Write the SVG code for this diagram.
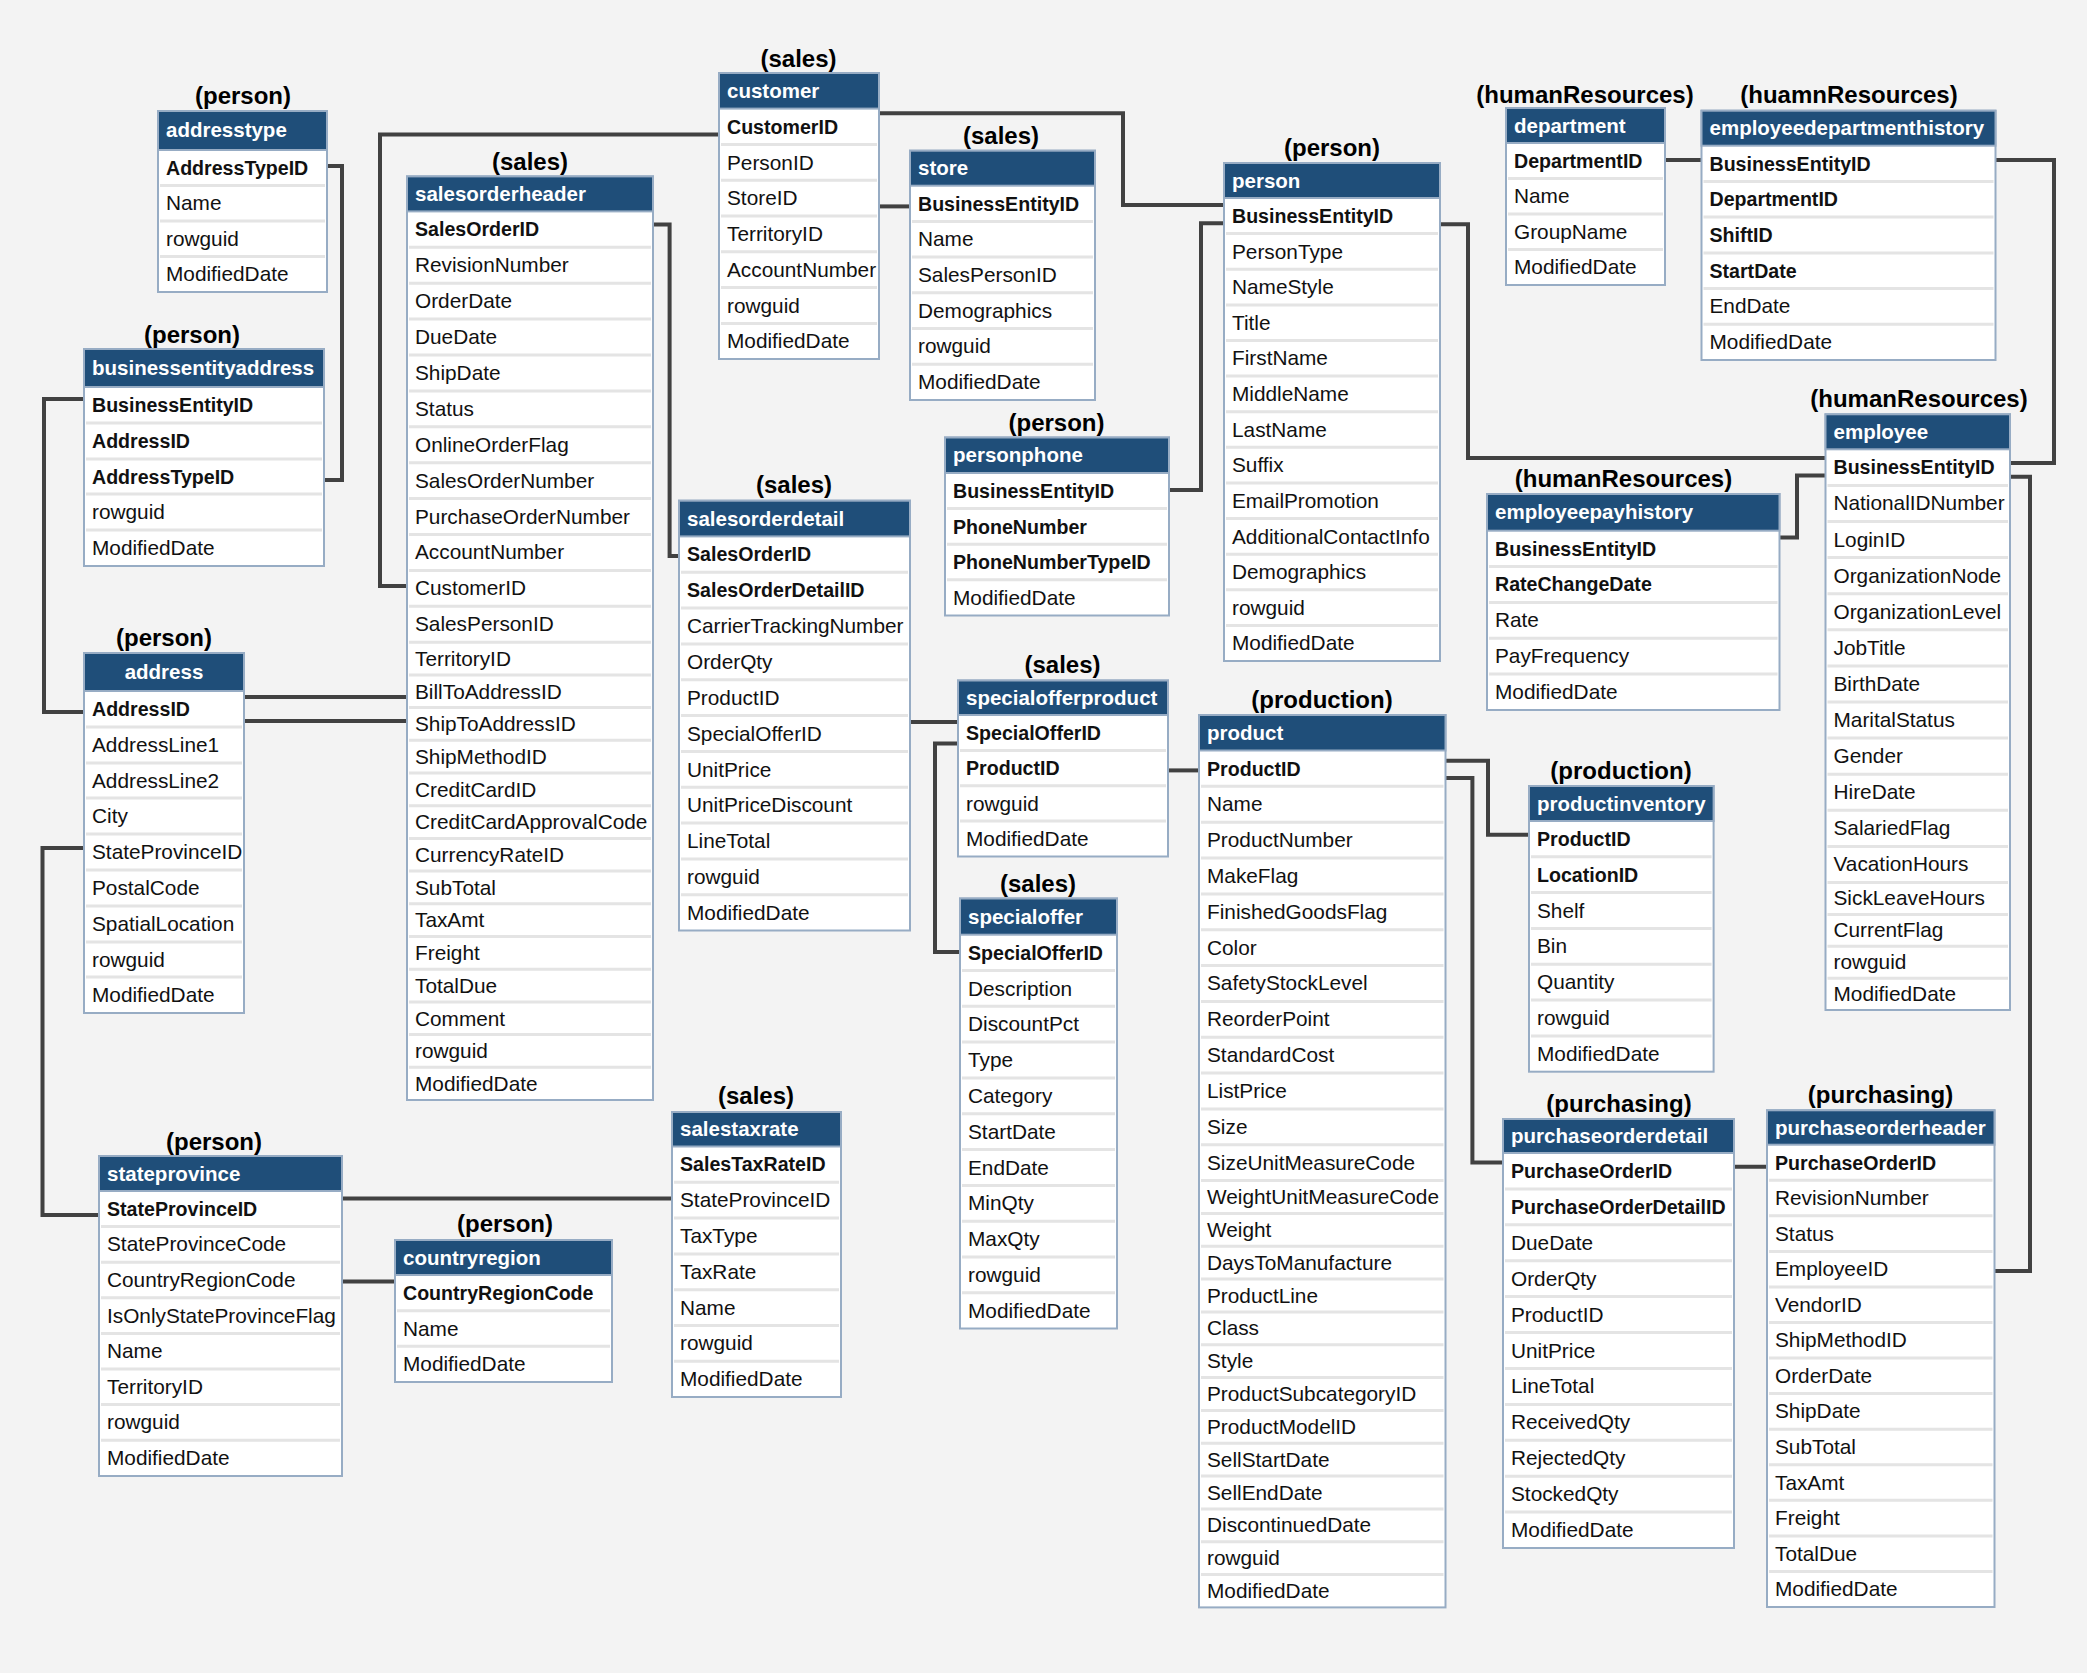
<svg xmlns="http://www.w3.org/2000/svg" width="2087" height="1673" viewBox="0 0 2087 1673">
<style>
.sc{font-family:"Liberation Sans",Arial,sans-serif;font-weight:bold;font-size:24px;fill:#000;text-anchor:middle}
.bx{fill:#fff;stroke:#97acc4;stroke-width:2}
.hd{fill:#1f4e79;stroke:#97acc4;stroke-width:2}
.ht{font-family:"Liberation Sans",Arial,sans-serif;font-weight:bold;font-size:20.5px;fill:#fff}
.sp{stroke:#e4e4e4;stroke-width:3;fill:none}
.f{font-family:"Liberation Sans",Arial,sans-serif;font-size:20.8px;fill:#111}
.k{font-family:"Liberation Sans",Arial,sans-serif;font-weight:bold;font-size:19.6px;fill:#111}
.ln{fill:none;stroke:#414141;stroke-width:4}
</style>
<rect width="2087" height="1673" fill="#f3f3f3"/>
<g id="connectors">
<path class="ln" d="M327 166H342V480H324"/>
<path class="ln" d="M84 399H44V712H84"/>
<path class="ln" d="M84 848H42.5V1215H99"/>
<path class="ln" d="M244 697H407"/>
<path class="ln" d="M244 721H407"/>
<path class="ln" d="M719 134.6H380V586H407"/>
<path class="ln" d="M653 224.6H669.6V556H679"/>
<path class="ln" d="M342 1198.5H672"/>
<path class="ln" d="M342 1281.4H395"/>
<path class="ln" d="M879 113.2H1123V205H1224"/>
<path class="ln" d="M879 206.4H910"/>
<path class="ln" d="M1169 490H1201V223.2H1224"/>
<path class="ln" d="M1440 224.3H1468V458H1825.5"/>
<path class="ln" d="M1665 160H1701.5"/>
<path class="ln" d="M1995.5 160H2054V463H2010"/>
<path class="ln" d="M1825.5 475.4H1797V537.5H1779.5"/>
<path class="ln" d="M2010 476.8H2030V1271H1994.5"/>
<path class="ln" d="M910 722H958"/>
<path class="ln" d="M958 743.6H935V952H960"/>
<path class="ln" d="M1168 770.4H1199"/>
<path class="ln" d="M1445.5 760.8H1488V834.8H1529"/>
<path class="ln" d="M1445.5 778H1472.4V1162.6H1503"/>
<path class="ln" d="M1734 1166.8H1767"/>
</g>

<g id="addresstype">
<text class="sc" x="243" y="104">(person)</text>
<rect class="bx" x="158" y="111" width="169" height="181"/>
<rect class="hd" x="158" y="111" width="169" height="39"/>
<text class="ht" x="166" y="137">addresstype</text>
<path class="sp" d="M160 185.5H325M160 221H325M160 256.5H325"/>
<text class="k" x="166" y="175">AddressTypeID</text>
<text class="f" x="166" y="210">Name</text>
<text class="f" x="166" y="246">rowguid</text>
<text class="f" x="166" y="281">ModifiedDate</text>
</g>

<g id="businessentityaddress">
<text class="sc" x="192" y="343">(person)</text>
<rect class="bx" x="84" y="349" width="240" height="217"/>
<rect class="hd" x="84" y="349" width="240" height="38"/>
<text class="ht" x="92" y="375">businessentityaddress</text>
<path class="sp" d="M86 423H322M86 459H322M86 494H322M86 530H322"/>
<text class="k" x="92" y="412">BusinessEntityID</text>
<text class="k" x="92" y="448">AddressID</text>
<text class="k" x="92" y="484">AddressTypeID</text>
<text class="f" x="92" y="519">rowguid</text>
<text class="f" x="92" y="555">ModifiedDate</text>
</g>

<g id="address">
<text class="sc" x="164" y="646">(person)</text>
<rect class="bx" x="84" y="653" width="160" height="360"/>
<rect class="hd" x="84" y="653" width="160" height="38"/>
<text class="ht" x="164" y="679" text-anchor="middle">address</text>
<path class="sp" d="M86 727H242M86 763H242M86 798H242M86 834H242M86 870H242M86 906H242M86 942H242M86 977H242"/>
<text class="k" x="92" y="716">AddressID</text>
<text class="f" x="92" y="752">AddressLine1</text>
<text class="f" x="92" y="788">AddressLine2</text>
<text class="f" x="92" y="823">City</text>
<text class="f" x="92" y="859">StateProvinceID</text>
<text class="f" x="92" y="895">PostalCode</text>
<text class="f" x="92" y="931">SpatialLocation</text>
<text class="f" x="92" y="967">rowguid</text>
<text class="f" x="92" y="1002">ModifiedDate</text>
</g>

<g id="stateprovince">
<text class="sc" x="214" y="1150">(person)</text>
<rect class="bx" x="99" y="1156" width="243" height="320"/>
<rect class="hd" x="99" y="1156" width="243" height="35"/>
<text class="ht" x="107" y="1181">stateprovince</text>
<path class="sp" d="M101 1226.6H340M101 1262.2H340M101 1297.8H340M101 1333.4H340M101 1369H340M101 1404.6H340M101 1440.2H340"/>
<text class="k" x="107" y="1216">StateProvinceID</text>
<text class="f" x="107" y="1251">StateProvinceCode</text>
<text class="f" x="107" y="1287">CountryRegionCode</text>
<text class="f" x="107" y="1323">IsOnlyStateProvinceFlag</text>
<text class="f" x="107" y="1358">Name</text>
<text class="f" x="107" y="1394">TerritoryID</text>
<text class="f" x="107" y="1429">rowguid</text>
<text class="f" x="107" y="1465">ModifiedDate</text>
</g>

<g id="countryregion">
<text class="sc" x="505" y="1232">(person)</text>
<rect class="bx" x="395" y="1240" width="217" height="142"/>
<rect class="hd" x="395" y="1240" width="217" height="35"/>
<text class="ht" x="403" y="1265">countryregion</text>
<path class="sp" d="M397 1310.7H610M397 1346.3H610"/>
<text class="k" x="403" y="1300">CountryRegionCode</text>
<text class="f" x="403" y="1336">Name</text>
<text class="f" x="403" y="1371">ModifiedDate</text>
</g>

<g id="salestaxrate">
<text class="sc" x="756" y="1104">(sales)</text>
<rect class="bx" x="672" y="1112" width="169" height="285"/>
<rect class="hd" x="672" y="1112" width="169" height="34.5"/>
<text class="ht" x="680" y="1136">salestaxrate</text>
<path class="sp" d="M674 1182.3H839M674 1218.1H839M674 1253.9H839M674 1289.7H839M674 1325.5H839M674 1361.3H839"/>
<text class="k" x="680" y="1171">SalesTaxRateID</text>
<text class="f" x="680" y="1207">StateProvinceID</text>
<text class="f" x="680" y="1243">TaxType</text>
<text class="f" x="680" y="1279">TaxRate</text>
<text class="f" x="680" y="1315">Name</text>
<text class="f" x="680" y="1350">rowguid</text>
<text class="f" x="680" y="1386">ModifiedDate</text>
</g>

<g id="salesorderheader">
<text class="sc" x="530" y="170">(sales)</text>
<rect class="bx" x="407" y="176.4" width="246" height="923.6"/>
<rect class="hd" x="407" y="176.4" width="246" height="35"/>
<text class="ht" x="415" y="201">salesorderheader</text>
<path class="sp" d="M409 247.3H651M409 283.2H651M409 319.1H651M409 355H651M409 390.9H651M409 426.8H651M409 462.7H651M409 498.6H651M409 534.5H651M409 570.4H651M409 606.3H651M409 642.2H651M409 674.9H651M409 707.6H651M409 740.3H651M409 773H651M409 805.7H651M409 838.4H651M409 871.1H651M409 903.8H651M409 936.5H651M409 969.2H651M409 1001.9H651M409 1034.6H651M409 1067.3H651"/>
<text class="k" x="415" y="236">SalesOrderID</text>
<text class="f" x="415" y="272">RevisionNumber</text>
<text class="f" x="415" y="308">OrderDate</text>
<text class="f" x="415" y="344">DueDate</text>
<text class="f" x="415" y="380">ShipDate</text>
<text class="f" x="415" y="416">Status</text>
<text class="f" x="415" y="452">OnlineOrderFlag</text>
<text class="f" x="415" y="488">SalesOrderNumber</text>
<text class="f" x="415" y="524">PurchaseOrderNumber</text>
<text class="f" x="415" y="559">AccountNumber</text>
<text class="f" x="415" y="595">CustomerID</text>
<text class="f" x="415" y="631">SalesPersonID</text>
<text class="f" x="415" y="666">TerritoryID</text>
<text class="f" x="415" y="699">BillToAddressID</text>
<text class="f" x="415" y="731">ShipToAddressID</text>
<text class="f" x="415" y="764">ShipMethodID</text>
<text class="f" x="415" y="797">CreditCardID</text>
<text class="f" x="415" y="829">CreditCardApprovalCode</text>
<text class="f" x="415" y="862">CurrencyRateID</text>
<text class="f" x="415" y="895">SubTotal</text>
<text class="f" x="415" y="927">TaxAmt</text>
<text class="f" x="415" y="960">Freight</text>
<text class="f" x="415" y="993">TotalDue</text>
<text class="f" x="415" y="1026">Comment</text>
<text class="f" x="415" y="1058">rowguid</text>
<text class="f" x="415" y="1091">ModifiedDate</text>
</g>

<g id="customer">
<text class="sc" x="798.5" y="67">(sales)</text>
<rect class="bx" x="719" y="73" width="160" height="286"/>
<rect class="hd" x="719" y="73" width="160" height="35.6"/>
<text class="ht" x="727" y="98">customer</text>
<path class="sp" d="M721 144.4H877M721 180.2H877M721 216H877M721 251.8H877M721 287.6H877M721 323.4H877"/>
<text class="k" x="727" y="134">CustomerID</text>
<text class="f" x="727" y="170">PersonID</text>
<text class="f" x="727" y="205">StoreID</text>
<text class="f" x="727" y="241">TerritoryID</text>
<text class="f" x="727" y="277">AccountNumber</text>
<text class="f" x="727" y="313">rowguid</text>
<text class="f" x="727" y="348">ModifiedDate</text>
</g>

<g id="store">
<text class="sc" x="1001" y="144">(sales)</text>
<rect class="bx" x="910" y="150.7" width="185" height="249.3"/>
<rect class="hd" x="910" y="150.7" width="185" height="35"/>
<text class="ht" x="918" y="175">store</text>
<path class="sp" d="M912 221.4H1093M912 257.1H1093M912 292.8H1093M912 328.5H1093M912 364.2H1093"/>
<text class="k" x="918" y="211">BusinessEntityID</text>
<text class="f" x="918" y="246">Name</text>
<text class="f" x="918" y="282">SalesPersonID</text>
<text class="f" x="918" y="318">Demographics</text>
<text class="f" x="918" y="353">rowguid</text>
<text class="f" x="918" y="389">ModifiedDate</text>
</g>

<g id="personphone">
<text class="sc" x="1056.5" y="431">(person)</text>
<rect class="bx" x="945" y="437.5" width="224" height="178"/>
<rect class="hd" x="945" y="437.5" width="224" height="35.5"/>
<text class="ht" x="953" y="462">personphone</text>
<path class="sp" d="M947 508.6H1167M947 544.2H1167M947 579.8H1167"/>
<text class="k" x="953" y="498">BusinessEntityID</text>
<text class="k" x="953" y="534">PhoneNumber</text>
<text class="k" x="953" y="569">PhoneNumberTypeID</text>
<text class="f" x="953" y="605">ModifiedDate</text>
</g>

<g id="salesorderdetail">
<text class="sc" x="794" y="493">(sales)</text>
<rect class="bx" x="679" y="500.7" width="231" height="429.8"/>
<rect class="hd" x="679" y="500.7" width="231" height="35.7"/>
<text class="ht" x="687" y="526">salesorderdetail</text>
<path class="sp" d="M681 572.2H908M681 608.1H908M681 643.9H908M681 679.7H908M681 715.6H908M681 751.4H908M681 787.2H908M681 823.1H908M681 858.9H908M681 894.7H908"/>
<text class="k" x="687" y="561">SalesOrderID</text>
<text class="k" x="687" y="597">SalesOrderDetailID</text>
<text class="f" x="687" y="633">CarrierTrackingNumber</text>
<text class="f" x="687" y="669">OrderQty</text>
<text class="f" x="687" y="705">ProductID</text>
<text class="f" x="687" y="741">SpecialOfferID</text>
<text class="f" x="687" y="777">UnitPrice</text>
<text class="f" x="687" y="812">UnitPriceDiscount</text>
<text class="f" x="687" y="848">LineTotal</text>
<text class="f" x="687" y="884">rowguid</text>
<text class="f" x="687" y="920">ModifiedDate</text>
</g>

<g id="specialofferproduct">
<text class="sc" x="1062.5" y="673">(sales)</text>
<rect class="bx" x="958" y="680.5" width="210" height="176"/>
<rect class="hd" x="958" y="680.5" width="210" height="34.5"/>
<text class="ht" x="966" y="705">specialofferproduct</text>
<path class="sp" d="M960 750.4H1166M960 785.8H1166M960 821.1H1166"/>
<text class="k" x="966" y="740">SpecialOfferID</text>
<text class="k" x="966" y="775">ProductID</text>
<text class="f" x="966" y="811">rowguid</text>
<text class="f" x="966" y="846">ModifiedDate</text>
</g>

<g id="specialoffer">
<text class="sc" x="1038" y="892">(sales)</text>
<rect class="bx" x="960" y="898.5" width="157" height="430"/>
<rect class="hd" x="960" y="898.5" width="157" height="36.2"/>
<text class="ht" x="968" y="924">specialoffer</text>
<path class="sp" d="M962 970.5H1115M962 1006.3H1115M962 1042.1H1115M962 1077.9H1115M962 1113.8H1115M962 1149.6H1115M962 1185.4H1115M962 1221.2H1115M962 1257H1115M962 1292.8H1115"/>
<text class="k" x="968" y="960">SpecialOfferID</text>
<text class="f" x="968" y="996">Description</text>
<text class="f" x="968" y="1031">DiscountPct</text>
<text class="f" x="968" y="1067">Type</text>
<text class="f" x="968" y="1103">Category</text>
<text class="f" x="968" y="1139">StartDate</text>
<text class="f" x="968" y="1175">EndDate</text>
<text class="f" x="968" y="1210">MinQty</text>
<text class="f" x="968" y="1246">MaxQty</text>
<text class="f" x="968" y="1282">rowguid</text>
<text class="f" x="968" y="1318">ModifiedDate</text>
</g>

<g id="person">
<text class="sc" x="1332" y="156">(person)</text>
<rect class="bx" x="1224" y="163" width="216" height="498"/>
<rect class="hd" x="1224" y="163" width="216" height="35"/>
<text class="ht" x="1232" y="188">person</text>
<path class="sp" d="M1226 233.6H1438M1226 269.2H1438M1226 304.9H1438M1226 340.5H1438M1226 376.1H1438M1226 411.7H1438M1226 447.3H1438M1226 483H1438M1226 518.6H1438M1226 554.2H1438M1226 589.8H1438M1226 625.4H1438"/>
<text class="k" x="1232" y="223">BusinessEntityID</text>
<text class="f" x="1232" y="259">PersonType</text>
<text class="f" x="1232" y="294">NameStyle</text>
<text class="f" x="1232" y="330">Title</text>
<text class="f" x="1232" y="365">FirstName</text>
<text class="f" x="1232" y="401">MiddleName</text>
<text class="f" x="1232" y="437">LastName</text>
<text class="f" x="1232" y="472">Suffix</text>
<text class="f" x="1232" y="508">EmailPromotion</text>
<text class="f" x="1232" y="544">AdditionalContactInfo</text>
<text class="f" x="1232" y="579">Demographics</text>
<text class="f" x="1232" y="615">rowguid</text>
<text class="f" x="1232" y="650">ModifiedDate</text>
</g>

<g id="department">
<text class="sc" x="1585" y="103">(humanResources)</text>
<rect class="bx" x="1506" y="108" width="159" height="177"/>
<rect class="hd" x="1506" y="108" width="159" height="35"/>
<text class="ht" x="1514" y="133">department</text>
<path class="sp" d="M1508 178.5H1663M1508 214H1663M1508 249.5H1663"/>
<text class="k" x="1514" y="168">DepartmentID</text>
<text class="f" x="1514" y="203">Name</text>
<text class="f" x="1514" y="239">GroupName</text>
<text class="f" x="1514" y="274">ModifiedDate</text>
</g>

<g id="employeedepartmenthistory">
<text class="sc" x="1849" y="103">(huamnResources)</text>
<rect class="bx" x="1701.5" y="110.7" width="294" height="249.3"/>
<rect class="hd" x="1701.5" y="110.7" width="294" height="35"/>
<text class="ht" x="1709.5" y="135">employeedepartmenthistory</text>
<path class="sp" d="M1703.5 181.4H1993.5M1703.5 217.1H1993.5M1703.5 252.9H1993.5M1703.5 288.6H1993.5M1703.5 324.3H1993.5"/>
<text class="k" x="1709.5" y="171">BusinessEntityID</text>
<text class="k" x="1709.5" y="206">DepartmentID</text>
<text class="k" x="1709.5" y="242">ShiftID</text>
<text class="k" x="1709.5" y="278">StartDate</text>
<text class="f" x="1709.5" y="313">EndDate</text>
<text class="f" x="1709.5" y="349">ModifiedDate</text>
</g>

<g id="employee">
<text class="sc" x="1919" y="407">(humanResources)</text>
<rect class="bx" x="1825.5" y="414.3" width="184.5" height="595.7"/>
<rect class="hd" x="1825.5" y="414.3" width="184.5" height="35"/>
<text class="ht" x="1833.5" y="439">employee</text>
<path class="sp" d="M1827.5 485.4H2008M1827.5 521.5H2008M1827.5 557.6H2008M1827.5 593.7H2008M1827.5 629.8H2008M1827.5 665.9H2008M1827.5 702H2008M1827.5 738.1H2008M1827.5 774.2H2008M1827.5 810.3H2008M1827.5 846.4H2008M1827.5 882.5H2008M1827.5 914.4H2008M1827.5 946.3H2008M1827.5 978.2H2008"/>
<text class="k" x="1833.5" y="474">BusinessEntityID</text>
<text class="f" x="1833.5" y="510">NationalIDNumber</text>
<text class="f" x="1833.5" y="547">LoginID</text>
<text class="f" x="1833.5" y="583">OrganizationNode</text>
<text class="f" x="1833.5" y="619">OrganizationLevel</text>
<text class="f" x="1833.5" y="655">JobTitle</text>
<text class="f" x="1833.5" y="691">BirthDate</text>
<text class="f" x="1833.5" y="727">MaritalStatus</text>
<text class="f" x="1833.5" y="763">Gender</text>
<text class="f" x="1833.5" y="799">HireDate</text>
<text class="f" x="1833.5" y="835">SalariedFlag</text>
<text class="f" x="1833.5" y="871">VacationHours</text>
<text class="f" x="1833.5" y="905">SickLeaveHours</text>
<text class="f" x="1833.5" y="937">CurrentFlag</text>
<text class="f" x="1833.5" y="969">rowguid</text>
<text class="f" x="1833.5" y="1001">ModifiedDate</text>
</g>

<g id="employeepayhistory">
<text class="sc" x="1623.5" y="487">(humanResources)</text>
<rect class="bx" x="1487" y="494" width="292.5" height="216"/>
<rect class="hd" x="1487" y="494" width="292.5" height="36.7"/>
<text class="ht" x="1495" y="519">employeepayhistory</text>
<path class="sp" d="M1489 566.6H1777.5M1489 602.4H1777.5M1489 638.3H1777.5M1489 674.1H1777.5"/>
<text class="k" x="1495" y="556">BusinessEntityID</text>
<text class="k" x="1495" y="591">RateChangeDate</text>
<text class="f" x="1495" y="627">Rate</text>
<text class="f" x="1495" y="663">PayFrequency</text>
<text class="f" x="1495" y="699">ModifiedDate</text>
</g>

<g id="product">
<text class="sc" x="1322" y="708">(production)</text>
<rect class="bx" x="1199" y="715" width="246.5" height="892.4"/>
<rect class="hd" x="1199" y="715" width="246.5" height="35.5"/>
<text class="ht" x="1207" y="740">product</text>
<path class="sp" d="M1201 786.3H1443.5M1201 822.2H1443.5M1201 858H1443.5M1201 893.9H1443.5M1201 929.7H1443.5M1201 965.5H1443.5M1201 1001.4H1443.5M1201 1037.2H1443.5M1201 1073.1H1443.5M1201 1108.9H1443.5M1201 1144.7H1443.5M1201 1180.6H1443.5M1201 1213.4H1443.5M1201 1246.3H1443.5M1201 1279.1H1443.5M1201 1311.9H1443.5M1201 1344.8H1443.5M1201 1377.6H1443.5M1201 1410.4H1443.5M1201 1443.2H1443.5M1201 1476.1H1443.5M1201 1508.9H1443.5M1201 1541.7H1443.5M1201 1574.6H1443.5"/>
<text class="k" x="1207" y="776">ProductID</text>
<text class="f" x="1207" y="811">Name</text>
<text class="f" x="1207" y="847">ProductNumber</text>
<text class="f" x="1207" y="883">MakeFlag</text>
<text class="f" x="1207" y="919">FinishedGoodsFlag</text>
<text class="f" x="1207" y="955">Color</text>
<text class="f" x="1207" y="990">SafetyStockLevel</text>
<text class="f" x="1207" y="1026">ReorderPoint</text>
<text class="f" x="1207" y="1062">StandardCost</text>
<text class="f" x="1207" y="1098">ListPrice</text>
<text class="f" x="1207" y="1134">Size</text>
<text class="f" x="1207" y="1170">SizeUnitMeasureCode</text>
<text class="f" x="1207" y="1204">WeightUnitMeasureCode</text>
<text class="f" x="1207" y="1237">Weight</text>
<text class="f" x="1207" y="1270">DaysToManufacture</text>
<text class="f" x="1207" y="1303">ProductLine</text>
<text class="f" x="1207" y="1335">Class</text>
<text class="f" x="1207" y="1368">Style</text>
<text class="f" x="1207" y="1401">ProductSubcategoryID</text>
<text class="f" x="1207" y="1434">ProductModelID</text>
<text class="f" x="1207" y="1467">SellStartDate</text>
<text class="f" x="1207" y="1500">SellEndDate</text>
<text class="f" x="1207" y="1532">DiscontinuedDate</text>
<text class="f" x="1207" y="1565">rowguid</text>
<text class="f" x="1207" y="1598">ModifiedDate</text>
</g>

<g id="productinventory">
<text class="sc" x="1621" y="779">(production)</text>
<rect class="bx" x="1529" y="786" width="184.6" height="285.7"/>
<rect class="hd" x="1529" y="786" width="184.6" height="35"/>
<text class="ht" x="1537" y="811">productinventory</text>
<path class="sp" d="M1531 856.8H1711.6M1531 892.6H1711.6M1531 928.4H1711.6M1531 964.3H1711.6M1531 1000.1H1711.6M1531 1035.9H1711.6"/>
<text class="k" x="1537" y="846">ProductID</text>
<text class="k" x="1537" y="882">LocationID</text>
<text class="f" x="1537" y="918">Shelf</text>
<text class="f" x="1537" y="953">Bin</text>
<text class="f" x="1537" y="989">Quantity</text>
<text class="f" x="1537" y="1025">rowguid</text>
<text class="f" x="1537" y="1061">ModifiedDate</text>
</g>

<g id="purchaseorderdetail">
<text class="sc" x="1619" y="1112">(purchasing)</text>
<rect class="bx" x="1503" y="1119" width="231" height="429"/>
<rect class="hd" x="1503" y="1119" width="231" height="34"/>
<text class="ht" x="1511" y="1143">purchaseorderdetail</text>
<path class="sp" d="M1505 1188.9H1732M1505 1224.8H1732M1505 1260.7H1732M1505 1296.6H1732M1505 1332.5H1732M1505 1368.5H1732M1505 1404.4H1732M1505 1440.3H1732M1505 1476.2H1732M1505 1512.1H1732"/>
<text class="k" x="1511" y="1178">PurchaseOrderID</text>
<text class="k" x="1511" y="1214">PurchaseOrderDetailID</text>
<text class="f" x="1511" y="1250">DueDate</text>
<text class="f" x="1511" y="1286">OrderQty</text>
<text class="f" x="1511" y="1322">ProductID</text>
<text class="f" x="1511" y="1358">UnitPrice</text>
<text class="f" x="1511" y="1393">LineTotal</text>
<text class="f" x="1511" y="1429">ReceivedQty</text>
<text class="f" x="1511" y="1465">RejectedQty</text>
<text class="f" x="1511" y="1501">StockedQty</text>
<text class="f" x="1511" y="1537">ModifiedDate</text>
</g>

<g id="purchaseorderheader">
<text class="sc" x="1880.5" y="1103">(purchasing)</text>
<rect class="bx" x="1767" y="1110.3" width="227.5" height="496.7"/>
<rect class="hd" x="1767" y="1110.3" width="227.5" height="34.4"/>
<text class="ht" x="1775" y="1135">purchaseorderheader</text>
<path class="sp" d="M1769 1180.3H1992.5M1769 1215.8H1992.5M1769 1251.4H1992.5M1769 1286.9H1992.5M1769 1322.5H1992.5M1769 1358.1H1992.5M1769 1393.6H1992.5M1769 1429.2H1992.5M1769 1464.7H1992.5M1769 1500.3H1992.5M1769 1535.9H1992.5M1769 1571.4H1992.5"/>
<text class="k" x="1775" y="1170">PurchaseOrderID</text>
<text class="f" x="1775" y="1205">RevisionNumber</text>
<text class="f" x="1775" y="1241">Status</text>
<text class="f" x="1775" y="1276">EmployeeID</text>
<text class="f" x="1775" y="1312">VendorID</text>
<text class="f" x="1775" y="1347">ShipMethodID</text>
<text class="f" x="1775" y="1383">OrderDate</text>
<text class="f" x="1775" y="1418">ShipDate</text>
<text class="f" x="1775" y="1454">SubTotal</text>
<text class="f" x="1775" y="1490">TaxAmt</text>
<text class="f" x="1775" y="1525">Freight</text>
<text class="f" x="1775" y="1561">TotalDue</text>
<text class="f" x="1775" y="1596">ModifiedDate</text>
</g>
</svg>
